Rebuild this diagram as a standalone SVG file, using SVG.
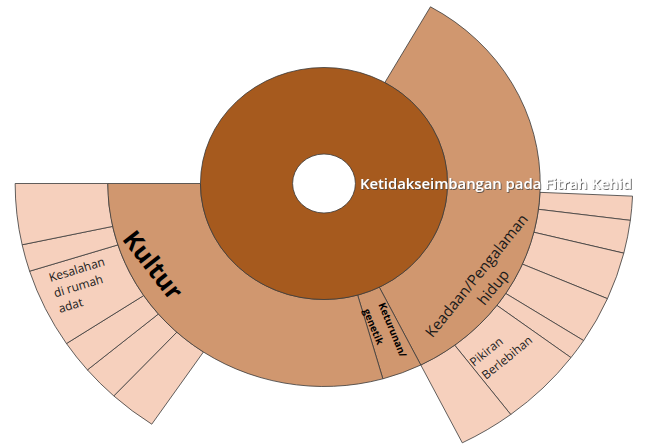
<svg xmlns="http://www.w3.org/2000/svg" width="649" height="444" viewBox="0 0 649 444">
  <defs>
    <style>
      .seg { stroke: #3a3a3a; stroke-width: 0.8; vector-effect: non-scaling-stroke; }
      .root { fill: #A65A1E; }
      .lvl1 { fill: #D0976F; }
      .lvl2 { fill: #F6D0BD; }
      text { font-family: "Open Sans", "Liberation Sans", sans-serif; fill: #1a1a1a; }
      .title { font-size: 14.5px; font-weight: 600; fill: #ffffff; }
      .big { font-size: 25px; font-weight: 700; fill: #000; }
      .mid { font-size: 15px; }
      .small-b { font-size: 10px; font-weight: 700; fill: #000; }
      .leaf { font-size: 12px; }
    </style>
    <filter id="shadow" x="-5%" y="-40%" width="110%" height="180%">
      <feDropShadow dx="0.8" dy="0.8" stdDeviation="0.7" flood-color="#3c3c3c" flood-opacity="0.95"/>
    </filter>
  </defs>

  <!-- sunburst rings, drawn in polar units around the centre -->
  <g id="rings" transform="translate(324,183.5) scale(1.065,1)">
    <!-- outer ring: children of Keadaan/Pengalaman hidup -->
    <g id="node-keadaan-children" class="lvl2">
      <path class="seg" d="M202.80,8.85 L289.71,12.64 A290 290 0 0 1 287.65,36.86 L201.36,25.80 A203 203 0 0 0 202.80,8.85 Z"/>
      <path class="seg" d="M201.36,25.80 L287.65,36.86 A290 290 0 0 1 281.50,69.66 L197.05,48.76 A203 203 0 0 0 201.36,25.80 Z"/>
      <path class="seg" d="M197.05,48.76 L281.50,69.66 A290 290 0 0 1 266.16,115.16 L186.31,80.61 A203 203 0 0 0 197.05,48.76 Z"/>
      <path class="seg" d="M186.31,80.61 L266.16,115.16 A290 290 0 0 1 243.77,157.09 L170.64,109.97 A203 203 0 0 0 186.31,80.61 Z"/>
      <path class="seg" d="M170.64,109.97 L243.77,157.09 A290 290 0 0 1 231.91,174.12 L162.34,121.88 A203 203 0 0 0 170.64,109.97 Z"/>
      <path id="node-pikiran" class="seg" d="M162.34,121.88 L231.91,174.12 A290 290 0 0 1 175.33,230.99 L122.73,161.69 A203 203 0 0 0 162.34,121.88 Z"/>
      <path class="seg" d="M122.73,161.69 L175.33,230.99 A290 290 0 0 1 129.86,259.32 L90.90,181.52 A203 203 0 0 0 122.73,161.69 Z"/>
    </g>
    <!-- outer ring: children of Kultur -->
    <g id="node-kultur-children" class="lvl2">
      <path class="seg" d="M-113.21,168.49 L-161.73,240.70 A290 290 0 0 1 -197.40,212.43 L-138.18,148.70 A203 203 0 0 0 -113.21,168.49 Z"/>
      <path class="seg" d="M-138.18,148.70 L-197.40,212.43 A290 290 0 0 1 -222.14,186.41 L-155.50,130.49 A203 203 0 0 0 -138.18,148.70 Z"/>
      <path class="seg" d="M-155.50,130.49 L-222.14,186.41 A290 290 0 0 1 -241.83,160.05 L-169.28,112.04 A203 203 0 0 0 -155.50,130.49 Z"/>
      <path id="node-kesalahan" class="seg" d="M-169.28,112.04 L-241.83,160.05 A290 290 0 0 1 -276.43,87.70 L-193.50,61.39 A203 203 0 0 0 -169.28,112.04 Z"/>
      <path class="seg" d="M-193.50,61.39 L-276.43,87.70 A290 290 0 0 1 -283.45,61.28 L-198.41,42.89 A203 203 0 0 0 -193.50,61.39 Z"/>
      <path class="seg" d="M-198.41,42.89 L-283.45,61.28 A290 290 0 0 1 -290,0 L-203,0 A203 203 0 0 0 -198.41,42.89 Z"/>
    </g>
    <!-- middle ring -->
    <g id="node-keadaan" class="lvl1">
      <path class="seg" d="M57.12,-100.97 L99.96,-176.69 A203 203 0 0 1 90.90,181.52 L51.94,103.73 A116 116 0 0 0 57.12,-100.97 Z"/>
    </g>
    <g id="node-keturunan" class="lvl1">
      <path class="seg" d="M51.94,103.73 L90.90,181.52 A203 203 0 0 1 55.28,195.33 L31.59,111.62 A116 116 0 0 0 51.94,103.73 Z"/>
    </g>
    <g id="node-kultur" class="lvl1">
      <path class="seg" d="M31.59,111.62 L55.28,195.33 A203 203 0 0 1 -203,0 L-116,0 A116 116 0 0 0 31.59,111.62 Z"/>
    </g>
    <!-- root ring -->
    <g id="node-root" class="root">
      <path class="seg" fill-rule="evenodd" d="M116,0 A116 116 0 1 1 -116,0 A116 116 0 1 1 116,0 Z M29.5,0 A29.5 29.5 0 1 0 -29.5,0 A29.5 29.5 0 1 0 29.5,0 Z"/>
    </g>
  </g>

  <!-- labels -->
  <g id="labels">
    <text class="big" transform="translate(146,270.5) rotate(52)" text-anchor="middle">Kultur</text>
    <text class="small-b" transform="translate(389.3,331.3) rotate(67.5)" text-anchor="middle">Keturunan/</text>
    <text class="small-b" transform="translate(370.1,328) rotate(67.5)" text-anchor="middle">genetik</text>
    <text class="mid" transform="translate(480.6,278.9) rotate(-51)" text-anchor="middle">Keadaan/Pengalaman</text>
    <text class="mid" transform="translate(497.2,290.6) rotate(-51)" text-anchor="middle">hidup</text>
    <text class="leaf" transform="translate(50.5,282) rotate(-17)">Kesalahan</text>
    <text class="leaf" transform="translate(55.2,297.5) rotate(-17)">di rumah</text>
    <text class="leaf" transform="translate(59.9,313) rotate(-17)">adat</text>
    <text class="leaf" transform="translate(474,367) rotate(-39)">Pikiran</text>
    <text class="leaf" transform="translate(486,380) rotate(-39)">Berlebihan</text>
  </g>

  <!-- root label -->
  <g id="root-label">
    <text class="title" filter="url(#shadow)" x="360" y="188.5" textLength="272" lengthAdjust="spacingAndGlyphs">Ketidakseimbangan pada Fitrah Kehid</text>
  </g>
</svg>
